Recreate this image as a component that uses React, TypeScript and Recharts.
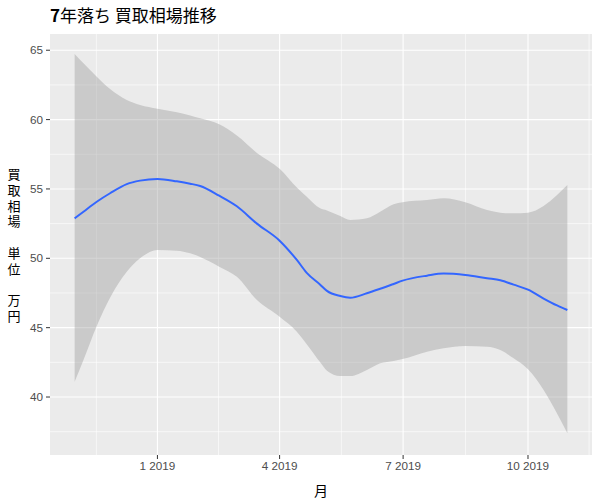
import {
  ComposedChart,
  Area,
  Line,
  XAxis,
  YAxis,
  CartesianGrid,
} from "recharts";

// days counted from 2019-01-01
const DAYS = [
  -61, -54.5, -44.7, -34.9, -22.6, -12.8, 0, 14.3, 24.1, 31.5, 45.5, 58.5, 73.3,
  90, 102.7, 110, 119.9, 124.9, 134.7, 142, 154.3, 164.1, 174, 180.6, 198.6,
  210.8, 226.8, 242.8, 252.6, 262.4, 273, 284.5, 294.4, 302,
];
const FIT = [
  52.88, 53.36, 54.08, 54.69, 55.35, 55.6, 55.72, 55.55, 55.38, 55.21, 54.51,
  53.75, 52.5, 51.27, 49.88, 48.95, 48.1, 47.65, 47.28, 47.16, 47.48, 47.8,
  48.15, 48.39, 48.75, 48.9, 48.8, 48.56, 48.42, 48.1, 47.74, 47.1, 46.6, 46.27,
];
const LOWER = [
  41.1, 42.67, 45.12, 47.15, 49.03, 50.0, 50.6, 50.55, 50.36, 50.1, 49.4,
  48.67, 46.99, 45.79, 44.71, 43.8, 42.5, 41.9, 41.51, 41.51, 41.95, 42.43,
  42.6, 42.74, 43.27, 43.51, 43.68, 43.63, 43.39, 42.79, 42.0, 40.51, 38.82,
  37.38,
];
const UPPER = [
  64.73, 64.06, 63.09, 62.2, 61.41, 61.05, 60.78, 60.52, 60.3, 60.09, 59.66,
  58.85, 57.6, 56.45, 55.1, 54.44, 53.6, 53.45, 53.05, 52.76, 52.88, 53.36,
  53.89, 54.04, 54.2, 54.33, 54.04, 53.48, 53.29, 53.24, 53.29, 53.77, 54.56,
  55.28,
];

const X_TICKS = [0, 90, 181, 273];
const X_TICK_LABELS = ["1 2019", "4 2019", "7 2019", "10 2019"];
const X_MINOR = [-45, 45, 135.5, 227, 318];
const Y_TICKS = [40, 45, 50, 55, 60, 65];
const Y_MINOR = [37.5, 42.5, 47.5, 52.5, 57.5, 62.5];
const Y_TITLE = ["買", "取", "相", "場", "", "単", "位", "", "万", "円"];

const TEXT_FONT = "'Liberation Sans', Arial, sans-serif";
const CJK_FONT = "'Noto Sans CJK JP', 'Liberation Sans', sans-serif";

const data = DAYS.map((d, i) => ({
  day: d,
  fit: FIT[i],
  band: [LOWER[i], UPPER[i]],
}));

// eslint-disable-next-line @typescript-eslint/no-explicit-any
function YTitle({ viewBox }: any) {
  const cy = viewBox.y + viewBox.height / 2;
  const lh = 15.7;
  const top = cy - ((Y_TITLE.length - 1) * lh) / 2;
  return (
    <g>
      {Y_TITLE.map((c, i) =>
        c ? (
          <text
            key={i}
            x={14}
            y={top + i * lh}
            textAnchor="middle"
            dominantBaseline="central"
            fontFamily={CJK_FONT}
            fontSize={13}
            fill="#000000"
          >
            {c}
          </text>
        ) : null
      )}
    </g>
  );
}

export default function App() {
  return (
    <div style={{ position: "absolute", left: 0, top: 0, width: 600, height: 500, background: "#fff" }}>
      <div
        style={{
          position: "absolute",
          left: 50,
          top: 2,
          fontFamily: CJK_FONT,
          fontSize: 17,
          color: "#000",
          whiteSpace: "nowrap",
        }}
      >
        <span style={{ fontWeight: "bold" }}>7</span>年落ち 買取相場推移
      </div>
      <ComposedChart
        width={600}
        height={500}
        data={data}
        margin={{ top: 34, right: 8, bottom: 0, left: 0 }}
      >
        <CartesianGrid
          fill="#EBEBEB"
          stroke="#FFFFFF"
          strokeWidth={0.6}
          horizontalValues={Y_MINOR}
          verticalValues={X_MINOR}
        />
        <CartesianGrid
          stroke="#FFFFFF"
          strokeWidth={1.1}
          horizontalValues={Y_TICKS}
          verticalValues={X_TICKS}
        />
        <XAxis
          type="number"
          dataKey="day"
          domain={[-79.15, 320.15]}
          allowDataOverflow
          ticks={X_TICKS}
          tickFormatter={(v) => X_TICK_LABELS[X_TICKS.indexOf(v)] ?? ""}
          tick={{ fontSize: 11.7, fill: "#4D4D4D", fontFamily: TEXT_FONT }}
          tickLine={{ stroke: "#333333" }}
          tickSize={4}
          tickMargin={3}
          axisLine={false}
          height={45}
          label={{
            value: "月",
            position: "insideBottom",
            offset: 4,
            fontSize: 14,
            fill: "#000000",
            fontFamily: CJK_FONT,
          }}
        />
        <YAxis
          type="number"
          domain={[35.82, 66.17]}
          allowDataOverflow
          ticks={Y_TICKS}
          tick={{ fontSize: 11.7, fill: "#4D4D4D", fontFamily: TEXT_FONT }}
          tickLine={{ stroke: "#333333" }}
          tickSize={4}
          tickMargin={3}
          axisLine={false}
          width={50}
          label={<YTitle />}
        />
        <Area
          type="monotone"
          dataKey="band"
          fill="#999999"
          fillOpacity={0.4}
          stroke="none"
          isAnimationActive={false}
        />
        <Line
          type="monotone"
          dataKey="fit"
          stroke="#3366FF"
          strokeWidth={2}
          dot={false}
          isAnimationActive={false}
        />
      </ComposedChart>
    </div>
  );
}
